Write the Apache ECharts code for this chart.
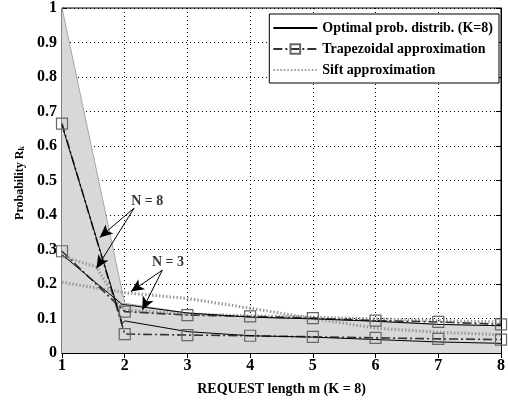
<!DOCTYPE html>
<html>
<head>
<meta charset="utf-8">
<script src="https://cdn.jsdelivr.net/npm/echarts@6/dist/echarts.min.js"></script>
<style>
  html, body { margin: 0; padding: 0; background: #fff; }
  #chart { width: 508px; height: 401px; }
</style>
</head>
<body>
<div id="chart"></div>
<script>
// Request length axis (m) and probability ticks
const mTicks = [1, 2, 3, 4, 5, 6, 7, 8];

// Shaded feasible region: upper boundary
const regionX = [1, 2, 3, 4, 5, 6, 7, 8];
const regionY = [1, 0.144, 0.116, 0.104, 0.099, 0.092, 0.083, 0.079];

// Optimal probability distribution, N = 3 and N = 8
const optN3X = [1, 1.95, 2, 3, 4, 5, 6, 7, 8];
const optN3Y = [0.285, 0.142, 0.14, 0.116, 0.104, 0.099, 0.092, 0.083, 0.079];
const optN8X = [1, 1.93, 1.96, 2, 3, 4, 5, 6, 7, 8];
const optN8Y = [0.66, 0.105, 0.085, 0.093, 0.062, 0.05, 0.046, 0.039, 0.032, 0.028];

// Trapezoidal approximation, N = 3 and N = 8
const trapN3Y = [0.295, 0.12, 0.11, 0.106, 0.101, 0.094, 0.09, 0.083];
const trapN8Y = [0.665, 0.055, 0.052, 0.05, 0.047, 0.044, 0.041, 0.039];

// Sift approximation, N = 3 and N = 8
const siftN3X = [1, 1.5, 2, 3, 4, 5, 6, 7, 8];
const siftN3Y = [0.205, 0.19, 0.175, 0.158, 0.13, 0.1, 0.072, 0.06, 0.053];
const siftN8X = [1, 1.55, 1.83, 2, 3, 4, 5, 6, 7, 8];
const siftN8Y = [0.28, 0.25, 0.163, 0.125, 0.113, 0.108, 0.104, 0.099, 0.094, 0.09];

// Annotation callouts: label position and arrow targets (data units)
const noteN8 = { text: 'N = 8', at: [2.36, 0.44], from: [2.15, 0.42], to: [[1.6, 0.335], [1.55, 0.245]] };
const noteN3 = { text: 'N = 3', at: [2.69, 0.263], from: [2.6, 0.24], to: [[2.1, 0.178], [2.28, 0.125]] };

const pairs = (xs, ys) => xs.map((x, i) => [x, ys[i]]);

const serif = '"Liberation Serif", "DejaVu Serif", serif';
const txt = { fontFamily: serif, fontWeight: 'bold', color: '#000' };

const NAME_OPT = 'Optimal prob. distrib. (K=8)';
const NAME_TRAP = 'Trapezoidal approximation';
const NAME_SIFT = 'Sift approximation';

const optStyle = { color: '#000', width: 1, type: 'solid' };
const trapStyle = { color: '#333', width: 1.6, type: [9, 3, 2, 3] };
const siftStyle = { color: '#999', width: 3, type: [1.5, 2] };

function lineSeries(name, data, style, withMarker) {
  return {
    name, type: 'line', data,
    lineStyle: style,
    itemStyle: { color: 'rgba(0,0,0,0)', borderColor: '#666', borderWidth: 1.2 },
    symbol: withMarker ? 'rect' : 'none',
    symbolSize: withMarker ? 11 : 0,
    showSymbol: withMarker,
    animation: false, silent: true, z: 3
  };
}

function arrowLines(note) {
  return note.to.map(t => [{ coord: note.from }, { coord: t }]);
}

const chart = echarts.init(document.getElementById('chart'), null, { renderer: 'canvas' });

const hiddenMarker = { opacity: 0 };

chart.setOption({
  animation: false,
  backgroundColor: '#fff',
  grid: { left: 62, right: 5, top: 6, bottom: 47, show: true, borderColor: '#000', borderWidth: 1, backgroundColor: 'transparent' },
  legend: {
    orient: 'vertical', right: 9, top: 14,
    backgroundColor: '#fff', borderColor: '#000', borderWidth: 1, borderRadius: 0,
    padding: [7, 6, 6, 3], itemGap: 7, itemWidth: 44, itemHeight: 12,
    textStyle: { ...txt, fontSize: 14 },
    data: [
      { name: NAME_OPT, itemStyle: hiddenMarker },
      { name: NAME_TRAP },
      { name: NAME_SIFT, itemStyle: hiddenMarker }
    ]
  },
  xAxis: [{
    type: 'value', min: 1, max: 8, interval: 1,
    name: 'REQUEST length m (K = 8)', nameLocation: 'middle', nameGap: 29,
    nameTextStyle: { ...txt, fontSize: 14 },
    axisLine: { lineStyle: { color: '#000' } },
    axisTick: { inside: true, length: 5, lineStyle: { color: '#000' } },
    axisLabel: { ...txt, fontSize: 16, margin: 5 },
    splitLine: { lineStyle: { color: '#000', type: [1, 3], width: 1 } }
  }, {
    type: 'value', position: 'top', min: 1, max: 8, interval: 1,
    axisLine: { lineStyle: { color: '#000' } },
    axisTick: { inside: true, length: 5, lineStyle: { color: '#000' } },
    axisLabel: { show: false }, splitLine: { show: false }
  }],
  yAxis: [{
    type: 'value', min: 0, max: 1, interval: 0.1,
    name: 'Probability R{sub|k}', nameLocation: 'middle', nameGap: 35, nameRotate: 90,
    nameTextStyle: { ...txt, fontSize: 12, padding: [0, 5, 0, 0], rich: { sub: { ...txt, fontSize: 8, verticalAlign: 'bottom', padding: [5, 0, 0, 0] } } },
    axisLine: { lineStyle: { color: '#000' } },
    axisTick: { inside: true, length: 5, lineStyle: { color: '#000' } },
    axisLabel: { ...txt, fontSize: 16, margin: 5 },
    splitLine: { lineStyle: { color: '#000', type: [1, 3], width: 1 } }
  }, {
    type: 'value', position: 'right', min: 0, max: 1, interval: 0.1,
    axisLine: { lineStyle: { color: '#000' } },
    axisTick: { inside: true, length: 5, lineStyle: { color: '#000' } },
    axisLabel: { show: false }, splitLine: { show: false }
  }],
  series: [
    {
      name: 'region', type: 'line', data: pairs(regionX, regionY),
      symbol: 'none', lineStyle: { color: '#a6a6a6', width: 1 },
      areaStyle: { color: '#d8d8d8', opacity: 1 },
      silent: true, z: 1
    },
    lineSeries(NAME_SIFT, pairs(siftN3X, siftN3Y), siftStyle, false),
    lineSeries(NAME_SIFT, pairs(siftN8X, siftN8Y), siftStyle, false),
    lineSeries(NAME_TRAP, pairs(mTicks, trapN3Y), trapStyle, true),
    lineSeries(NAME_TRAP, pairs(mTicks, trapN8Y), trapStyle, true),
    lineSeries(NAME_OPT, pairs(optN3X, optN3Y), optStyle, false),
    lineSeries(NAME_OPT, pairs(optN8X, optN8Y), optStyle, false),
    {
      name: 'notes', type: 'scatter', symbolSize: 0, silent: true, z: 5,
      data: [
        { value: noteN8.at, label: { show: true, formatter: noteN8.text, position: 'inside', ...txt, fontSize: 14 } },
        { value: noteN3.at, label: { show: true, formatter: noteN3.text, position: 'inside', ...txt, fontSize: 14 } }
      ],
      markLine: {
        silent: true, animation: false,
        symbol: ['none', 'arrow'], symbolSize: [9, 13],
        label: { show: false },
        lineStyle: { color: '#000', width: 1, type: 'solid' },
        data: arrowLines(noteN8).concat(arrowLines(noteN3))
      }
    }
  ]
});
</script>
</body>
</html>
